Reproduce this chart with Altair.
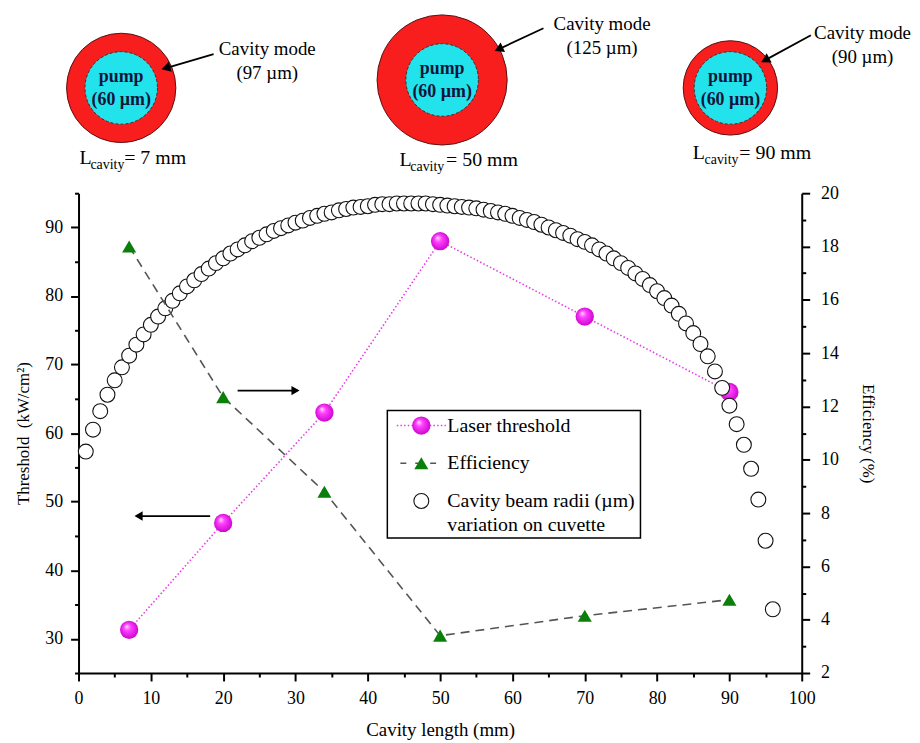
import math
import altair as alt
import pandas as pd

# ---------------- data ----------------
cavity_length = [7, 20, 34, 50, 70, 90]
laser_threshold = [31.3, 46.9, 63.0, 88.0, 77.0, 66.0]
efficiency = [18.0, 12.35, 8.8, 3.4, 4.15, 4.75]

beam_length = list(range(1, 97))
beam_radius = [
    57.3, 60.5, 63.2, 65.6, 67.7, 69.6, 71.3, 72.9, 74.4, 75.8,
    77.0, 78.2, 79.3, 80.4, 81.4, 82.3, 83.2, 84.0, 84.8, 85.5,
    86.2, 86.8, 87.4, 88.0, 88.5, 89.0, 89.5, 89.9, 90.3, 90.7,
    91.0, 91.4, 91.7, 92.0, 92.2, 92.5, 92.7, 92.9, 93.0, 93.1,
    93.3, 93.4, 93.4, 93.5, 93.5, 93.5, 93.5, 93.5, 93.4, 93.3,
    93.2, 93.1, 93.0, 92.9, 92.8, 92.6, 92.4, 92.2, 92.0, 91.7,
    91.4, 91.1, 90.8, 90.4, 90.0, 89.6, 89.2, 88.8, 88.3, 87.9,
    87.4, 86.8, 86.2, 85.5, 84.8, 84.1, 83.3, 82.5, 81.6, 80.7,
    79.7, 78.6, 77.4, 76.0, 74.6, 73.0, 71.2, 69.0, 66.6, 64.0,
    61.3, 58.3, 54.8, 50.3, 44.3, 34.3,
]

diagram_length = [7, 50, 90]
diagram_mode_um = [97, 125, 90]
pump_um = 60

legend_labels = ["Laser threshold", "Efficiency", "Cavity beam radii (\u00b5m)", "variation on cuvette"]

# ---------------- layout / style ----------------
FONT = "Liberation Serif, Times New Roman, serif"
W, H, TOP_H = 728, 483, 160
PX_MM = W / 100.0

xs = alt.Scale(domain=[0, 100], nice=False, zero=False)
yl = alt.Scale(domain=[25, 95], nice=False, zero=False)
yr = alt.Scale(domain=[2, 20], nice=False, zero=False)

axis_common = dict(domainColor="black", domainWidth=2, tickColor="black", tickWidth=2,
                   labelFont=FONT, labelFontSize=18, labelColor="black",
                   titleFont=FONT, titleFontWeight="normal", titleColor="black",
                   grid=False, labelFlush=False, labelOverlap=False)

x_axis = alt.Axis(title="Cavity length (mm)", values=list(range(0, 101, 5)),
                  labelExpr="datum.value % 10 === 0 ? datum.label : ''",
                  tickSize={"expr": "datum.value % 10 === 0 ? 8 : 4"},
                  titleFontSize=19, titlePadding=13, labelPadding=9, **axis_common)
yl_axis = alt.Axis(title="Threshold\u00a0\u00a0(kW/cm\u00b2)", values=list(range(25, 96, 5)),
                   labelExpr="datum.value % 10 === 0 ? datum.label : ''",
                   tickSize={"expr": "datum.value % 10 === 0 ? 8 : 4"},
                   titleFontSize=17, titlePadding=12, labelPadding=8, **axis_common)
yr_axis = alt.Axis(title="Efficiency (%)", orient="right", values=list(range(2, 21)),
                   labelExpr="datum.value % 2 === 0 ? datum.label : ''",
                   tickSize={"expr": "datum.value % 2 === 0 ? 8 : 4"},
                   titleFontSize=17, titlePadding=20, labelPadding=11, **axis_common)

X = alt.X("x:Q", scale=xs, axis=x_axis)
YL = alt.Y("y:Q", scale=yl, axis=yl_axis)
YR = alt.Y("y:Q", scale=yr, axis=yr_axis)
YO = alt.Y("y:Q", scale=yl, axis=None)

PINK = "#e63ce6"
GREEN = "#0a7f0a"
ball = alt.RadialGradient(
    gradient="radial",
    stops=[alt.GradientStop(color="#ffe0ff", offset=0.0),
           alt.GradientStop(color="#ff40ff", offset=0.35),
           alt.GradientStop(color="#c800c8", offset=1.0)],
    x1=0.35, y1=0.3, r1=0.0, x2=0.5, y2=0.5, r2=0.55)

thr = pd.DataFrame({"x": cavity_length, "y": laser_threshold})
eff = pd.DataFrame({"x": cavity_length, "y": efficiency})
rad = pd.DataFrame({"x": beam_length, "y": beam_radius})

thr_line = alt.Chart(thr).mark_line(color=PINK, strokeWidth=1.6, strokeDash=[1.5, 2.2]).encode(X, YL)
thr_pts = alt.Chart(thr).mark_point(shape="circle", filled=True, fill=ball, size=340,
                                    opacity=1, strokeWidth=0).encode(X, YL)
rad_pts = alt.Chart(rad).mark_point(shape="circle", filled=True, fill="white", stroke="#111111",
                                    strokeWidth=1.1, size=225, opacity=1).encode(X, YL)
left_group = alt.layer(thr_line, thr_pts, rad_pts)

eff_line = alt.Chart(eff).mark_line(color="#555555", strokeWidth=1.6, strokeDash=[9, 6]).encode(X, YR)
eff_pts = alt.Chart(eff).mark_point(shape="triangle-up", filled=True, fill=GREEN, size=200,
                                    opacity=1, strokeWidth=0).encode(X, YR)
right_group = alt.layer(eff_line, eff_pts)

# ---- in-plot legend and arrows (positioned in data units) ----
box = pd.DataFrame({"x": [42.7], "x2": [77.7], "y": [44.7], "y2": [63.3]})
lg_box = alt.Chart(box).mark_rect(fill="white", stroke="black", strokeWidth=1.5).encode(
    X, alt.X2("x2:Q"), YO, alt.Y2("y2:Q"))
ROWS = [61.1, 55.6, 50.1, 46.6]
lg_thr_line = alt.Chart(pd.DataFrame({"x": [44.0, 50.8], "y": [ROWS[0]] * 2})).mark_line(
    color=PINK, strokeWidth=1.6, strokeDash=[1.5, 2.2]).encode(X, YO)
lg_thr_pt = alt.Chart(pd.DataFrame({"x": [47.4], "y": [ROWS[0]]})).mark_point(
    shape="circle", filled=True, fill=ball, size=340, opacity=1, strokeWidth=0).encode(X, YO)
lg_eff_line = alt.Chart(pd.DataFrame({"x": [44.5, 50.3], "y": [ROWS[1]] * 2})).mark_line(
    color="#555555", strokeWidth=1.6, strokeDash=[6, 9]).encode(X, YO)
lg_eff_pt = alt.Chart(pd.DataFrame({"x": [47.4], "y": [ROWS[1]]})).mark_point(
    shape="triangle-up", filled=True, fill=GREEN, size=200, opacity=1, strokeWidth=0).encode(X, YO)
lg_rad_pt = alt.Chart(pd.DataFrame({"x": [47.4], "y": [ROWS[2]]})).mark_point(
    shape="circle", filled=True, fill="white", stroke="#111111", strokeWidth=1.1, size=225,
    opacity=1).encode(X, YO)
lg_text = alt.Chart(pd.DataFrame({"x": [51.0] * 4, "y": ROWS, "t": legend_labels})).mark_text(
    align="left", baseline="middle", font=FONT, fontSize=20, color="black").encode(X, YO, text="t:N")

arrows = pd.DataFrame({"x": [22.0, 18.2], "x2": [30.0, 8.3], "y": [66.2, 47.9],
                       "shape": ["triangle-right", "triangle-left"]})
arr_rule = alt.Chart(arrows).mark_rule(color="black", strokeWidth=1.8).encode(X, alt.X2("x2:Q"), YO)
arr_head = alt.Chart(arrows).mark_point(filled=True, color="black", size=90, opacity=1).encode(
    alt.X("x2:Q", scale=xs, axis=x_axis), YO, shape=alt.Shape("shape:N", scale=None))

overlay = alt.layer(lg_box, lg_thr_line, lg_thr_pt, lg_eff_line, lg_eff_pt, lg_rad_pt, lg_text,
                    arr_rule, arr_head)

main = alt.layer(left_group, right_group, overlay).resolve_scale(y="independent").properties(
    width=W, height=H)

# ---------------- top diagrams ----------------
TX = alt.Scale(domain=[0, 100], nice=False, zero=False)
TY = alt.Scale(domain=[TOP_H, 0], nice=False, zero=False)

center_dx = [-8, 2, 1]          # px nudge of each sketch from its cavity length
center_y = [73, 65, 73]
RING_PX = {97: 110, 125: 131, 90: 95, 60: 73}   # drawn diameter for each beam size
cx = [L + d / PX_MM for L, d in zip(diagram_length, center_dx)]
diag = pd.DataFrame({
    "x": cx, "y": center_y,
    "outer": [RING_PX[m] ** 2 for m in diagram_mode_um],
    "inner": [RING_PX[pump_um] ** 2] * 3,
})
tX = alt.X("x:Q", scale=TX, axis=None)
tY = alt.Y("y:Q", scale=TY, axis=None)

ring = alt.Chart(diag).mark_point(shape="circle", filled=True, fill="#f81e1e", stroke="#5a1010",
                                  strokeWidth=1, opacity=1).encode(
    tX, tY, size=alt.Size("outer:Q", scale=None))
core = alt.Chart(diag).mark_point(shape="circle", filled=True, fill="#22e3ec", stroke="#333333",
                                  strokeWidth=1, strokeDash=[3, 2], opacity=1).encode(
    tX, tY, size=alt.Size("inner:Q", scale=None))

pump_df = pd.DataFrame({
    "x": cx * 2,
    "y": [c - 11 for c in center_y] + [c + 12 for c in center_y],
    "t": ["pump"] * 3 + [f"({pump_um} \u00b5m)"] * 3,
})
pump_txt = alt.Chart(pump_df).mark_text(font=FONT, fontSize=18, fontWeight="bold", color="#14143a",
                                        baseline="middle").encode(tX, tY, text="t:N")

mode_dx = [139, 163, 134]
mode_y = [34, 9, 18]
mode_df = pd.DataFrame({
    "x": [L + d / PX_MM for L, d in zip(diagram_length, mode_dx)] * 2,
    "y": mode_y + [v + 24 for v in mode_y],
    "t": ["Cavity mode"] * 3 + [f"({m} \u00b5m)" for m in diagram_mode_um],
})
mode_txt = alt.Chart(mode_df).mark_text(font=FONT, fontSize=19, color="black",
                                        baseline="middle").encode(tX, tY, text="t:N")

a_sx, a_sy = [85, 104, 82], [39, 13, 20]
a_ex, a_ey = [37, 59, 36], [53, 34, 45]
arr_df = pd.DataFrame({
    "x": [L + d / PX_MM for L, d in zip(diagram_length, a_sx)],
    "x2": [L + d / PX_MM for L, d in zip(diagram_length, a_ex)],
    "y": a_sy, "y2": a_ey,
    "ang": [(math.degrees(math.atan2(ex - sx, -(ey - sy))) + 360) % 360
            for sx, sy, ex, ey in zip(a_sx, a_sy, a_ex, a_ey)],
})
t_arr = alt.Chart(arr_df).mark_rule(color="black", strokeWidth=1.8).encode(
    tX, tY, alt.X2("x2:Q"), alt.Y2("y2:Q"))
t_head = alt.Chart(arr_df).mark_point(shape="triangle-up", filled=True, color="black", size=110,
                                      opacity=1).encode(
    alt.X("x2:Q", scale=TX, axis=None), alt.Y("y2:Q", scale=TY, axis=None),
    angle=alt.Angle("ang:Q", scale=None))

lab_y = [144, 146, 139]
lab_df = pd.DataFrame({
    "xL": [L + d / PX_MM for L, d in zip(diagram_length, [-50, -41, -37])],
    "xS": [L + d / PX_MM for L, d in zip(diagram_length, [-39, -30, -25])],
    "xR": [L + d / PX_MM for L, d in zip(diagram_length, [-5, 6, 10])],
    "y": lab_y, "yS": [v + 7 for v in lab_y],
    "tR": [f"= {L} mm" for L in diagram_length],
})
lab_L = alt.Chart(lab_df).mark_text(font=FONT, fontSize=20, align="left", baseline="middle",
                                    color="black", text="L").encode(
    alt.X("xL:Q", scale=TX, axis=None), tY)
lab_S = alt.Chart(lab_df).mark_text(font=FONT, fontSize=14, align="left", baseline="middle",
                                    color="black", text="cavity").encode(
    alt.X("xS:Q", scale=TX, axis=None), alt.Y("yS:Q", scale=TY, axis=None))
lab_R = alt.Chart(lab_df).mark_text(font=FONT, fontSize=20, align="left", baseline="middle",
                                    color="black").encode(
    alt.X("xR:Q", scale=TX, axis=None), tY, text="tR:N")

top = alt.layer(ring, core, pump_txt, mode_txt, t_arr, t_head, lab_L, lab_S, lab_R).properties(
    width=W, height=TOP_H)

chart = alt.vconcat(top, main, spacing=10).configure(font=FONT).configure_view(
    stroke=None).properties(
    padding={"left": 7, "top": 2, "right": 0, "bottom": 0}, background="white")

chart.save("out.html", embed_options={"renderer": "svg", "actions": False})
